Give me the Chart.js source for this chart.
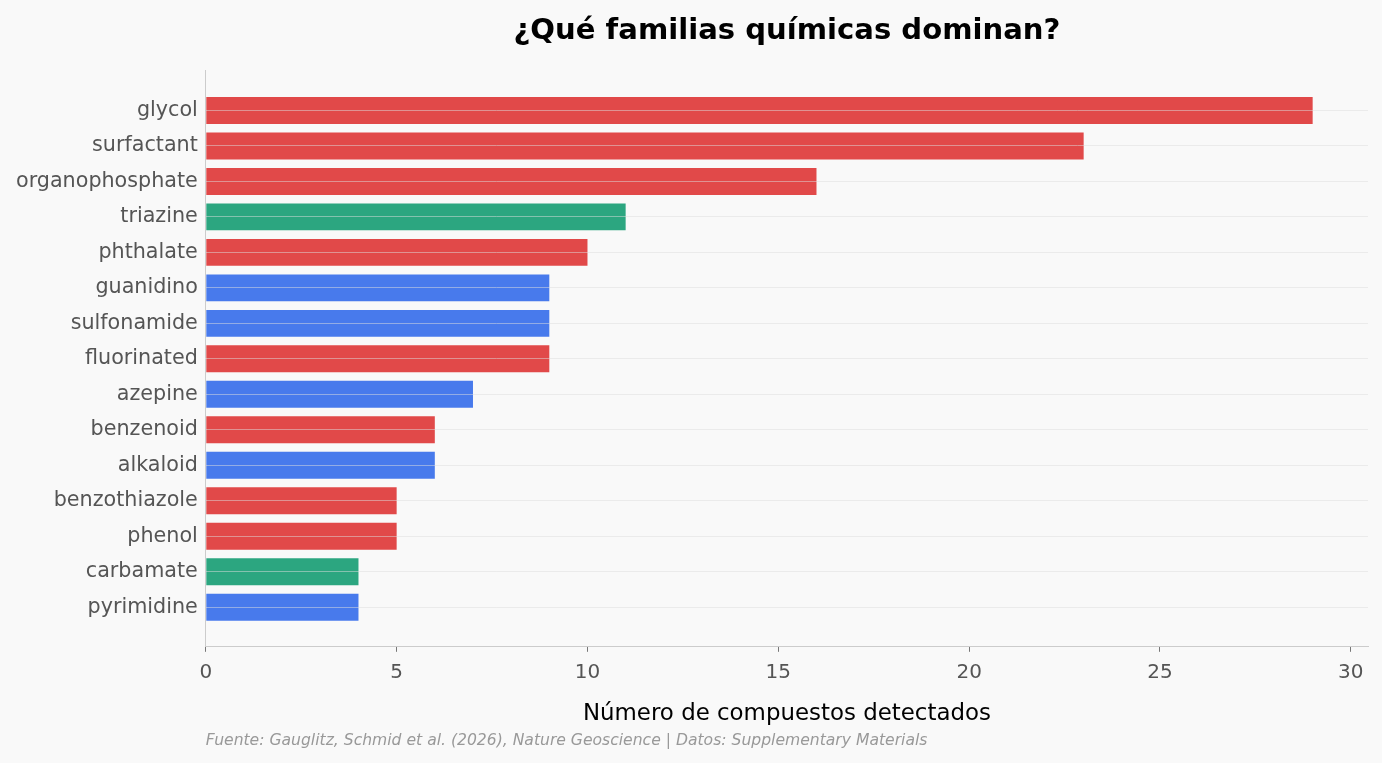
<!DOCTYPE html>
<html>
<head>
<meta charset="utf-8">
<script src="https://cdn.jsdelivr.net/npm/chart.js@4/dist/chart.umd.min.js"></script>
<style>
    html, body { margin: 0; padding: 0; background: #f9f9f9; }
    #wrap { width: 1382px; height: 763px; }
</style>
</head>
<body>
<div id="wrap"><canvas id="familyChart"></canvas></div>
<script>
// Data (top to bottom)
const families = ['glycol', 'surfactant', 'organophosphate', 'triazine', 'phthalate', 'guanidino',
    'sulfonamide', 'fluorinated', 'azepine', 'benzenoid', 'alkaloid', 'benzothiazole', 'phenol',
    'carbamate', 'pyrimidine'];
const counts = [29, 23, 16, 11, 10, 9, 9, 9, 7, 6, 6, 5, 5, 4, 4];
const groups = ['industrial', 'industrial', 'industrial', 'pesticida', 'industrial', 'farmaco',
    'farmaco', 'industrial', 'farmaco', 'industrial', 'farmaco', 'industrial', 'industrial',
    'pesticida', 'farmaco'];
const xTicks = [0, 5, 10, 15, 20, 25, 30];

const groupColors = { industrial: '#e14949', pesticida: '#2ca680', farmaco: '#487aec' };
const FONT = "'DejaVu Sans', sans-serif";

const points = counts.map((v, i) => ({ x: v, y: i }));

new Chart(document.getElementById('familyChart'), {
    type: 'bar',
    data: {
        datasets: [{
            data: points,
            backgroundColor: groups.map(g => groupColors[g]),
            borderWidth: 0,
            categoryPercentage: 1,
            barPercentage: 0.76
        }]
    },
    options: {
        indexAxis: 'y',
        responsive: true,
        maintainAspectRatio: false,
        animation: false,
        layout: { padding: { left: 8, right: 14, top: 12, bottom: 13 } },
        scales: {
            x: {
                type: 'linear',
                min: 0,
                max: 30.45,
                afterBuildTicks: scale => { scale.ticks = xTicks.map(v => ({ value: v })); },
                grid: { display: true, drawOnChartArea: false, drawTicks: true, tickLength: 5, tickColor: '#777', tickWidth: 1 },
                border: { color: '#cccccc', width: 1 },
                ticks: { color: '#555', font: { family: FONT, size: 20 }, padding: 9 },
                title: { display: true, text: 'Número de compuestos detectados', color: '#000',
                    font: { family: FONT, size: 22.9 }, padding: { top: 7, bottom: 0 } }
            },
            y: {
                type: 'linear',
                reverse: true,
                offset: false,
                min: -1.1125,
                max: 15.1125,
                afterBuildTicks: scale => { scale.ticks = families.map((_, i) => ({ value: i })); },
                // grid drawn above the bars, as in the reference
                grid: { z: 1, offset: false, color: 'rgba(221,221,221,0.5)', lineWidth: 1, drawTicks: false },
                border: { z: 1, color: '#cccccc', width: 1 },
                ticks: { color: '#555', font: { family: FONT, size: 20.7 }, padding: 8,
                    callback: v => families[v] }
            }
        },
        plugins: {
            legend: { display: false },
            tooltip: { enabled: false },
            title: {
                display: true,
                text: '¿Qué familias químicas dominan?',
                fullSize: false,
                color: '#000',
                font: { family: FONT, size: 29.1, weight: 'bold' },
                padding: { top: 2, bottom: 22 }
            },
            subtitle: {
                display: true,
                position: 'bottom',
                align: 'start',
                fullSize: false,
                text: 'Fuente: Gauglitz, Schmid et al. (2026), Nature Geoscience | Datos: Supplementary Materials',
                color: '#999',
                font: { family: FONT, size: 15.6, style: 'italic' },
                padding: { top: 3, bottom: 0 }
            }
        }
    }
});
</script>
</body>
</html>
